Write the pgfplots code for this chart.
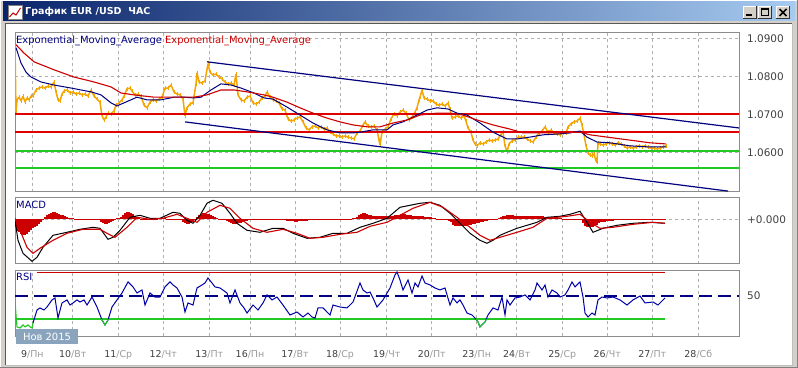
\documentclass[border=0pt]{standalone}
\usepackage{fontspec}
\setmainfont{DejaVu Sans}
\usepackage{pgfplots}
\pgfplotsset{compat=1.18}
\definecolor{winbg}{HTML}{D4D0C8}
\definecolor{tbdark}{HTML}{0A246A}
\definecolor{tblight}{HTML}{A6CAF0}
\definecolor{priceor}{HTML}{F5A500}
\definecolor{emablue}{HTML}{000080}
\definecolor{emared}{HTML}{CC0000}
\definecolor{lvred}{HTML}{E00000}
\definecolor{lvgreen}{HTML}{22C922}
\definecolor{gridgray}{HTML}{B0B0B0}
\definecolor{framegray}{HTML}{8C8C8C}
\definecolor{labgray}{HTML}{404040}
\definecolor{daygray}{HTML}{9A9A9A}
\definecolor{boxblue}{HTML}{8AA4BE}
\definecolor{rsiblue}{HTML}{0000A8}

\pgfplotsset{
  panel/.style={
    scale only axis, width=724bp, anchor=south west,
    xmin=15, xmax=739,
    axis line style={framegray, line width=1bp},
    tick style={draw=none},
    xtick={32.3,72.7,118.3,163.3,209.3,250,295,340,386.7,431.7,476.7,516.7,562.3,607.3,652.3,698.3},
    xticklabels={},
    xmajorgrids,
    grid style={gridgray, line width=0.6bp, dash pattern=on 3bp off 3bp},
    scaled y ticks=false,
    axis on top=false,
    yticklabel pos=right,
    yticklabel style={anchor=west, inner sep=0pt, xshift=8bp, font=\fontsize{10.5}{12}\selectfont, text=labgray},
    clip=true,
  }
}

\begin{document}
\begin{tikzpicture}
\useasboundingbox (0,0) rectangle (798bp,368bp);
% window frame
\fill[winbg] (0,0) rectangle (798bp,368bp);
\draw[white, line width=1bp] (0.5bp,0.5bp) -- (0.5bp,367.5bp) -- (797.5bp,367.5bp);
\draw[gray, line width=1bp] (797.5bp,367.5bp) -- (797.5bp,0.5bp) -- (0.5bp,0.5bp);
\shade[left color=tbdark, right color=tblight] (3bp,347bp) rectangle (795bp,366bp);
\fill[white] (6bp,3bp) rectangle (792bp,344bp);
\draw[gray!70!black, line width=1bp] (5.5bp,3bp) -- (5.5bp,344.5bp) -- (792bp,344.5bp);
\draw[gray!50, line width=1bp] (792.5bp,344bp) -- (792.5bp,2.5bp) -- (5.5bp,2.5bp);
% title icon
\fill[white] (8bp,349bp) rectangle (22bp,363bp);
\draw[gray, line width=0.8bp] (8bp,349bp) rectangle (22bp,363bp);
\draw[red!80!black, line width=1bp] (9.5bp,351bp) -- (13bp,355bp) -- (16bp,353bp) -- (20.5bp,360bp);
\node[anchor=west, inner sep=0pt, text=white, font=\bfseries\fontsize{9.6}{12}\selectfont] at (25bp,356.5bp) {График EUR /USD\ \ ЧАС};
% buttons
\foreach \bx in {743,758,776}{
  \fill[winbg] (\bx bp,349bp) rectangle ({(\bx+14)*1bp},362bp);
  \draw[white, line width=1bp] (\bx bp+0.5bp,349bp) -- (\bx bp+0.5bp,361.5bp) -- ({(\bx+14)*1bp},361.5bp);
  \draw[gray!40!black, line width=1bp] ({(\bx+13.5)*1bp},362bp) -- ({(\bx+13.5)*1bp},349.5bp) -- (\bx bp,349.5bp);
}
\draw[black, line width=2bp] (746bp,352.5bp) -- (752bp,352.5bp);
\draw[black, line width=1bp] (761.5bp,352.5bp) rectangle (768.5bp,359.5bp);
\draw[black, line width=2bp] (761bp,359bp) -- (769bp,359bp);
\draw[black, line width=1.6bp] (779.5bp,352bp) -- (786.5bp,359bp) (779.5bp,359bp) -- (786.5bp,352bp);

% ================= MAIN PRICE PANEL =================
\begin{axis}[panel, at={(15bp,176bp)}, height=159bp,
  ymin=1.04956, ymax=1.09138,
  ytick={1.06,1.07,1.08,1.09}, yticklabels={1.0600,1.0700,1.0800,1.0900},
  ymajorgrids]
\addplot[draw=priceor, line width=1.5bp, line join=bevel,
  error bars/.cd, y dir=both, y fixed=0.0006, error mark=none,
  error bar style={draw=priceor, line width=0.9bp}] coordinates {
(15,1.0877)(16,1.0706)(17,1.0738)(19,1.0745)(21,1.0735)(23,1.0748)(25,1.0732)(27,1.0743)(29,1.0738)(31,1.0748)(33,1.0748)(36,1.0764)(39,1.0769)(42,1.0772)(45,1.0769)(48,1.0774)(51,1.0772)(54,1.0785)(56,1.0759)(58,1.0738)(60,1.0735)(62,1.0753)(64,1.0761)(67,1.0764)(70,1.0756)(73,1.0759)(76,1.0753)(79,1.0756)(82,1.0751)(85,1.0753)(88,1.0748)(91,1.0764)(94,1.0748)(97,1.0740)(100,1.0732)(102,1.0696)(104,1.0685)(106,1.0693)(108,1.0703)(111,1.0701)(114,1.0709)(116,1.0724)(119,1.0730)(122,1.0738)(124,1.0748)(127,1.0767)(130,1.0769)(132,1.0761)(135,1.0751)(138,1.0753)(141,1.0748)(144,1.0724)(147,1.0717)(150,1.0732)(153,1.0738)(156,1.0735)(159,1.0740)(162,1.0745)(165,1.0769)(168,1.0769)(171,1.0777)(174,1.0759)(177,1.0753)(180,1.0751)(183,1.0740)(185,1.0696)(187,1.0717)(190,1.0727)(193,1.0730)(196,1.0780)(197,1.0809)(199,1.0785)(202,1.0782)(205,1.0788)(208,1.0833)(210,1.0811)(213,1.0803)(216,1.0806)(219,1.0798)(222,1.0793)(225,1.0785)(228,1.0780)(231,1.0782)(234,1.0777)(236,1.0806)(238,1.0751)(241,1.0738)(244,1.0735)(247,1.0745)(250,1.0748)(253,1.0730)(256,1.0727)(259,1.0732)(262,1.0743)(265,1.0748)(267,1.0759)(270,1.0745)(273,1.0738)(276,1.0735)(279,1.0730)(282,1.0714)(285,1.0711)(288,1.0688)(291,1.0682)(294,1.0685)(297,1.0690)(300,1.0693)(303,1.0680)(306,1.0664)(309,1.0659)(312,1.0667)(315,1.0669)(318,1.0664)(321,1.0667)(324,1.0661)(327,1.0664)(330,1.0653)(333,1.0648)(336,1.0643)(339,1.0643)(342,1.0640)(345,1.0643)(348,1.0640)(351,1.0638)(354,1.0635)(357,1.0651)(360,1.0656)(363,1.0672)(365,1.0680)(368,1.0669)(371,1.0667)(374,1.0669)(377,1.0659)(379,1.0632)(380,1.0619)(382,1.0653)(385,1.0661)(388,1.0667)(391,1.0688)(394,1.0701)(397,1.0696)(400,1.0706)(403,1.0711)(406,1.0703)(409,1.0685)(412,1.0693)(415,1.0706)(417,1.0717)(419,1.0738)(420,1.0745)(422,1.0764)(424,1.0743)(427,1.0740)(430,1.0735)(433,1.0735)(436,1.0727)(439,1.0724)(442,1.0727)(445,1.0722)(448,1.0730)(450,1.0714)(452,1.0690)(455,1.0693)(458,1.0696)(461,1.0690)(464,1.0696)(466,1.0682)(468,1.0664)(471,1.0653)(473,1.0632)(475,1.0622)(477,1.0617)(480,1.0625)(483,1.0622)(486,1.0627)(489,1.0632)(492,1.0630)(495,1.0632)(498,1.0635)(501,1.0648)(503,1.0653)(505,1.0617)(507,1.0601)(509,1.0622)(512,1.0630)(515,1.0632)(518,1.0640)(521,1.0640)(524,1.0640)(527,1.0635)(530,1.0630)(533,1.0627)(536,1.0640)(539,1.0651)(542,1.0656)(545,1.0667)(548,1.0653)(551,1.0659)(554,1.0651)(557,1.0648)(560,1.0646)(563,1.0651)(566,1.0651)(568,1.0667)(571,1.0675)(574,1.0680)(577,1.0682)(580,1.0690)(582,1.0672)(584,1.0646)(586,1.0617)(588,1.0598)(590,1.0593)(592,1.0591)(594,1.0596)(596,1.0577)(597,1.0575)(598,1.0625)(600,1.0622)(603,1.0619)(606,1.0622)(609,1.0625)(612,1.0622)(615,1.0619)(618,1.0625)(621,1.0622)(624,1.0617)(627,1.0611)(630,1.0614)(633,1.0611)(636,1.0614)(639,1.0617)(642,1.0614)(645,1.0617)(648,1.0614)(651,1.0611)(654,1.0611)(657,1.0609)(660,1.0611)(663,1.0614)(666,1.0617)
};
% horizontal levels
\addplot[draw=lvred, line width=1.35bp] coordinates {(15,1.0701)(739,1.0701)};
\addplot[draw=lvred, line width=1.35bp] coordinates {(15,1.0653)(739,1.0653)};
\addplot[draw=lvgreen, line width=1.4bp] coordinates {(15,1.0603)(739,1.0603)};
\addplot[draw=lvgreen, line width=1.4bp] coordinates {(15,1.0559)(739,1.0559)};
% channel
\addplot[draw=emablue, line width=1.2bp] coordinates {(207,1.0838)(739,1.0664)};
\addplot[draw=emablue, line width=1.2bp] coordinates {(185,1.0680)(728,1.0498)};
% EMA fast (blue)
\addplot[draw=emablue, line width=1bp] coordinates {
(16,1.0875)(21,1.0835)(26,1.0811)(31,1.0798)(41,1.0785)(54,1.0777)(71,1.0769)(91,1.0759)(101,1.0751)(111,1.0730)(117,1.0722)(124,1.0730)(137,1.0745)(147,1.0738)(161,1.0738)(174,1.0745)(184,1.0745)(194,1.0743)(201,1.0745)(211,1.0764)(221,1.0780)(231,1.0777)(241,1.0769)(254,1.0756)(264,1.0743)(273,1.0740)(287,1.0719)(300,1.0698)(313,1.0677)(327,1.0659)(340,1.0651)(353,1.0651)(360,1.0653)(373,1.0659)(387,1.0659)(393,1.0672)(403,1.0680)(417,1.0698)(427,1.0711)(437,1.0717)(448,1.0714)(457,1.0703)(467,1.0698)(480,1.0677)(493,1.0653)(507,1.0635)(517,1.0635)(530,1.0640)(543,1.0646)(557,1.0648)(570,1.0651)(580,1.0656)(587,1.0640)(597,1.0627)(610,1.0625)(630,1.0617)(650,1.0614)(666,1.0614)
};
% EMA slow (red)
\addplot[draw=emared, line width=1.1bp] coordinates {
(16,1.0883)(24,1.0861)(34,1.0838)(54,1.0817)(74,1.0798)(94,1.0785)(111,1.0772)(121,1.0756)(134,1.0751)(154,1.0745)(174,1.0745)(194,1.0745)(207,1.0751)(221,1.0764)(234,1.0764)(247,1.0759)(264,1.0751)(273,1.0745)(287,1.0732)(300,1.0717)(313,1.0703)(327,1.0690)(340,1.0680)(353,1.0672)(367,1.0667)(380,1.0667)(393,1.0677)(407,1.0685)(420,1.0698)(437,1.0703)(450,1.0703)(463,1.0698)(477,1.0685)(493,1.0672)(510,1.0661)(523,1.0651)(540,1.0651)(557,1.0651)(580,1.0653)(590,1.0646)(607,1.0640)(630,1.0632)(650,1.0625)(666,1.0622)
};
\end{axis}

% ================= MACD PANEL =================
\begin{axis}[panel, at={(15bp,104bp)}, height=66.7bp,
  ymin=-0.00447, ymax=0.0022,
  ytick={0}, yticklabels={+0.000}, ymajorgrids]
\addplot[ycomb, draw=emared, color=emared, line width=1.2bp] coordinates {
(15,-0.0008)(17,-0.0012)(19,-0.0013)(21,-0.0015)(23,-0.0016)(25,-0.0016)(27,-0.0015)(29,-0.0013)(31,-0.0011)(33,-0.0009)(35,-0.0008)(37,-0.0007)(39,-0.0005)(41,-0.0003)(43,-0.0001)(45,0.0002)(47,0.0004)(49,0.0005)(51,0.0006)(53,0.0007)(55,0.0007)(57,0.0006)(59,0.0005)(61,0.0004)(63,0.0004)(65,0.0003)(67,0.0002)(69,0.0001)(71,0.0001)(73,0.0001)(75,0.00005)(77,0.00005)(79,0.00005)(81,0.00005)(83,0.00005)(85,0.00003)(87,0.00003)(89,0.00003)(91,0.00003)(93,-0.00003)(95,-0.00005)(97,-0.00005)(99,-0.0001)(101,-0.0003)(103,-0.0004)(105,-0.0005)(107,-0.0005)(109,-0.0004)(111,-0.0003)(113,-0.0002)(115,0.00005)(117,0.0001)(119,0.0001)(121,0.0002)(123,0.0004)(125,0.0006)(127,0.0007)(129,0.0007)(131,0.0006)(133,0.0005)(135,0.0003)(137,0.0002)(139,0.0001)(141,0.00005)(143,-0.00005)(145,-0.00005)(147,-0.00005)(149,0.00005)(151,0.00005)(153,0.00005)(155,0.00005)(157,0.00005)(159,0.0001)(161,0.0001)(163,0.0001)(165,0.0001)(167,0.00005)(169,0.00005)(171,0.00005)(173,0.00005)(175,-0.00005)(177,-0.00005)(179,-0.00005)(181,-0.0001)(183,-0.0003)(185,-0.0004)(187,-0.0005)(189,-0.0005)(191,-0.0004)(193,-0.0003)(195,-0.0001)(197,0.0002)(199,0.0004)(201,0.0005)(203,0.0006)(205,0.0006)(207,0.0005)(209,0.0005)(211,0.0004)(213,0.0003)(215,0.0002)(217,0.0001)(219,0.00005)(221,0.00005)(223,-0.00005)(225,-0.0001)(227,-0.0002)(229,-0.0003)(231,-0.0004)(233,-0.0005)(235,-0.0005)(237,-0.0005)(239,-0.0004)(241,-0.0004)(243,-0.0003)(245,-0.0002)(247,-0.0002)(249,-0.0001)(251,-0.0001)(253,-0.0001)(255,-0.0001)(257,-0.0001)(259,-0.00005)(261,-0.00005)(263,-0.00005)(265,-0.00005)(267,-0.00005)(269,-0.00005)(271,0.00005)(273,0.00005)(275,0.00005)(277,0.00005)(279,-0.00005)(281,-0.00005)(283,-0.0001)(285,-0.0001)(287,-0.0002)(289,-0.0002)(291,-0.0002)(293,-0.0002)(295,-0.0003)(297,-0.0003)(299,-0.0002)(301,-0.0002)(303,-0.0002)(305,-0.0002)(307,-0.0002)(309,-0.0001)(311,-0.0001)(313,-0.0001)(315,-0.00005)(317,-0.00005)(319,0.00005)(321,0.00005)(323,0.00005)(325,0.00005)(327,0.00005)(329,0.00005)(331,0.00005)(333,0.00005)(335,0.00005)(337,0.00005)(339,0.00005)(341,0.00005)(343,0.00005)(345,-0.00005)(347,-0.00005)(349,0.00005)(351,0.00005)(353,0.0001)(355,0.0001)(357,0.0002)(359,0.0004)(361,0.0005)(363,0.0006)(365,0.0006)(367,0.0005)(369,0.0004)(371,0.0004)(373,0.0003)(375,0.0003)(377,0.0003)(379,0.0003)(381,0.0003)(383,0.0003)(385,0.0003)(387,0.0003)(389,0.0003)(391,0.0003)(393,0.0003)(395,0.0004)(397,0.0004)(399,0.0004)(401,0.0005)(403,0.0005)(405,0.0005)(407,0.0004)(409,0.0004)(411,0.0004)(413,0.0003)(415,0.0003)(417,0.0003)(419,0.0003)(421,0.0003)(423,0.0003)(425,0.0002)(427,0.0002)(429,0.0002)(431,0.0002)(433,0.0001)(435,0.0001)(437,0.00005)(439,-0.00005)(441,-0.00005)(443,-0.00005)(445,-0.0001)(447,-0.0001)(449,-0.0002)(451,-0.0003)(453,-0.0006)(455,-0.0007)(457,-0.0007)(459,-0.0007)(461,-0.0007)(463,-0.0007)(465,-0.0007)(467,-0.0007)(469,-0.0006)(471,-0.0006)(473,-0.0005)(475,-0.0005)(477,-0.0004)(479,-0.0004)(481,-0.0003)(483,-0.0003)(485,-0.0002)(487,-0.0002)(489,-0.0001)(491,-0.00005)(493,-0.00005)(495,0.00005)(497,0.00005)(499,0.0001)(501,0.0002)(503,0.0003)(505,0.0003)(507,0.0004)(509,0.0004)(511,0.0004)(513,0.0004)(515,0.0003)(517,0.0003)(519,0.0003)(521,0.0003)(523,0.0003)(525,0.0003)(527,0.0003)(529,0.0003)(531,0.0003)(533,0.0003)(535,0.0003)(537,0.0003)(539,0.0003)(541,0.0003)(543,0.0003)(545,0.0002)(547,0.0002)(549,0.0002)(551,0.0002)(553,0.0001)(555,0.0001)(557,0.0001)(559,0.0001)(561,0.0001)(563,0.00005)(565,0.00005)(567,0.00005)(569,0.00005)(571,0.00005)(573,0.00005)(575,0.00005)(577,0.00005)(579,0.00005)(581,-0.0001)(583,-0.0004)(585,-0.0007)(587,-0.0008)(589,-0.0008)(591,-0.0008)(593,-0.0008)(595,-0.0007)(597,-0.0006)(599,-0.0004)(601,-0.0003)(603,-0.0003)(605,-0.0003)(607,-0.0002)(609,-0.0002)(611,-0.0002)(613,-0.0002)(615,-0.0001)(617,-0.0001)(619,-0.00005)(621,-0.00005)(623,0.00005)(625,0.00005)(627,-0.00005)(629,0.00005)(631,0.00005)(633,0.00005)(635,-0.00005)(637,0.00005)(639,0.00005)(641,0.00005)(643,0.00005)(645,-0.00005)(647,0.00005)(649,0.00005)(651,0.00005)(653,0.00005)(655,-0.00005)(657,0.00005)(659,0.00005)(661,0.00005)(663,0.00005)(665,0.00005)
};
% MACD main line
\addplot[draw=black, line width=1bp] coordinates {
(15,-0.0001)(18,-0.0021)(23,-0.0034)(32,-0.0042)(37,-0.0038)(43,-0.0028)(53,-0.0016)(67,-0.0013)(80,-0.0010)(93,-0.0008)(100,-0.0009)(108,-0.0020)(113,-0.0018)(120,-0.0011)(130,0.0002)(140,0.0004)(150,0.0001)(160,0.0001)(173,0.0007)(180,0.0006)(187,-0.0001)(193,-0.0004)(200,0.0004)(207,0.0016)(213,0.0019)(222,0.0016)(230,0.0006)(237,-0.0004)(247,-0.0011)(260,-0.0013)(273,-0.0009)(283,-0.0009)(293,-0.0014)(307,-0.0019)(320,-0.0018)(333,-0.0014)(347,-0.0014)(360,-0.0008)(373,-0.0004)(387,0.0001)(400,0.0012)(410,0.0014)(420,0.0016)(430,0.0017)(440,0.0014)(450,0.0006)(460,-0.0004)(470,-0.0014)(480,-0.0021)(487,-0.0024)(493,-0.0021)(500,-0.0016)(507,-0.0013)(517,-0.0009)(527,-0.0006)(537,-0.0003)(547,0.0002)(560,0.0003)(570,0.0005)(580,0.0008)(587,-0.0003)(593,-0.0013)(603,-0.0009)(617,-0.0006)(633,-0.0004)(650,-0.0003)(665,-0.0004)
};
% signal line
\addplot[draw=emared, line width=1.1bp] coordinates {
(15,0.0001)(20,-0.0011)(27,-0.0028)(33,-0.0034)(40,-0.0029)(53,-0.0021)(67,-0.0014)(83,-0.0010)(100,-0.0010)(107,-0.0014)(115,-0.0018)(127,-0.0008)(137,0.0002)(150,0.0000)(163,0.0001)(177,0.0005)(187,0.0001)(197,-0.0003)(207,0.0007)(220,0.0014)(230,0.0011)(240,0.0001)(253,-0.0009)(267,-0.0013)(283,-0.0010)(297,-0.0014)(310,-0.0019)(323,-0.0018)(340,-0.0015)(357,-0.0013)(370,-0.0007)(387,-0.0003)(400,0.0004)(413,0.0011)(430,0.0017)(443,0.0012)(457,0.0002)(470,-0.0008)(480,-0.0016)(490,-0.0021)(500,-0.0018)(517,-0.0013)(533,-0.0008)(547,0.0001)(567,0.0003)(580,0.0005)(590,-0.0003)(600,-0.0009)(613,-0.0008)(633,-0.0005)(653,-0.0003)(665,-0.0004)
};
\end{axis}

% ================= RSI PANEL =================
\begin{axis}[panel, at={(15bp,32bp)}, height=66bp,
  ymin=15.5, ymax=72.4,
  ytick={50}, yticklabels={50},
  xticklabels={9\textcolor{daygray}{/Пн},10\textcolor{daygray}{/Вт},11\textcolor{daygray}{/Ср},12\textcolor{daygray}{/Чт},13\textcolor{daygray}{/Пт},16\textcolor{daygray}{/Пн},17\textcolor{daygray}{/Вт},18\textcolor{daygray}{/Ср},19\textcolor{daygray}{/Чт},20\textcolor{daygray}{/Пт},23\textcolor{daygray}{/Пн},24\textcolor{daygray}{/Вт},25\textcolor{daygray}{/Ср},26\textcolor{daygray}{/Чт},27\textcolor{daygray}{/Пт},28\textcolor{daygray}{/Сб}},
  xticklabel style={anchor=north, inner sep=0pt, yshift=-14bp, font=\fontsize{9.5}{11}\selectfont, text=labgray}]
\addplot[draw=emared, line width=1.3bp] coordinates {(37,70)(665,70)};
\addplot[draw=lvgreen, line width=1.4bp] coordinates {(15,30)(665,30)};
\addplot[draw=emablue, line width=1.2bp, dash pattern=on 13bp off 6bp] coordinates {(15,50)(739,50)};
\addplot[draw=rsiblue, line width=1bp] coordinates {
(33,26.7)(37,37.9)(40,39.7)(44,37.9)(47,40.5)(52,46.6)(55,48.3)(58,31.0)(62,44.0)(67,46.6)(70,42.2)(73,44.0)(77,46.6)(80,44.8)(84,46.6)(87,42.2)(92,49.1)(97,40.5)(102,29.3)(105,25.0)(108,29.3)(112,40.5)(117,46.6)(122,52.6)(128,62.1)(133,57.8)(137,52.6)(142,55.2)(145,42.2)(150,52.6)(155,49.1)(160,49.1)(165,57.8)(170,62.1)(173,59.5)(177,56.9)(182,49.1)(185,36.2)(188,44.0)(193,42.2)(197,56.9)(202,59.5)(205,61.2)(208,65.5)(212,61.2)(215,57.8)(220,56.9)(227,52.6)(230,44.0)(235,55.2)(240,44.0)(244,39.7)(247,35.3)(253,42.2)(258,37.9)(263,44.0)(267,50.9)(272,46.6)(277,49.1)(283,42.2)(290,33.6)(297,36.2)(303,31.9)(308,35.3)(312,31.9)(315,31.0)(318,39.7)(323,39.7)(330,33.6)(333,42.2)(340,40.5)(347,39.7)(353,44.8)(360,61.2)(363,55.2)(367,52.6)(370,53.4)(373,48.3)(377,40.5)(383,46.6)(390,56.9)(395,68.1)(397,70.7)(400,63.8)(403,55.2)(408,63.8)(412,52.6)(415,61.2)(418,57.8)(422,67.2)(425,61.2)(430,59.5)(435,56.9)(440,55.2)(445,56.9)(450,42.2)(453,48.3)(457,44.0)(460,46.6)(463,42.2)(467,35.3)(472,33.6)(475,31.0)(478,27.6)(480,23.3)(483,25.9)(485,27.6)(488,33.6)(493,39.7)(498,37.9)(502,49.1)(505,33.6)(507,46.6)(510,42.2)(515,48.3)(520,49.1)(525,50.9)(530,46.6)(535,55.2)(537,61.2)(542,55.2)(545,59.5)(548,49.1)(552,55.2)(557,52.6)(560,49.1)(565,50.9)(568,55.2)(572,62.1)(575,57.8)(580,62.1)(583,49.1)(585,35.3)(588,31.9)(592,35.3)(595,33.6)(598,46.6)(602,49.1)(607,48.3)(613,49.1)(620,46.6)(627,42.2)(633,46.6)(640,50.0)(645,44.0)(653,44.8)(658,42.2)(665,48.3)
};
\addplot[draw=lvgreen, line width=1.1bp] coordinates {(15,46.6)(16,33.6)(17,23.3)(20,22.4)(23,25.0)(25,23.3)(28,25.0)(30,23.3)(32,22.4)(33,26.7)};
\addplot[draw=lvgreen, line width=1.1bp] coordinates {(101.2,30)(102,29.3)(105,25.0)(108,29.3)(108.3,30)};
\addplot[draw=lvgreen, line width=1.1bp] coordinates {(476.2,30)(478,27.6)(480,23.3)(483,25.9)(485,27.6)(486.4,30)};
\end{axis}

% panel captions
\node[anchor=west, inner sep=0pt, font=\fontsize{10}{12}\selectfont] at (16bp,327bp) {\textcolor{emablue}{Exponential\_Moving\_Average} \textcolor{emared}{Exponential\_Moving\_Average}};
\node[anchor=west, inner sep=0pt, font=\fontsize{10}{12}\selectfont, text=emablue] at (16bp,163bp) {MACD};
\node[anchor=west, inner sep=0pt, font=\fontsize{10}{12}\selectfont, text=emablue] at (16bp,91bp) {RSI};
% date box
\fill[boxblue] (16bp,24bp) rectangle (78bp,39bp);
\node[inner sep=0pt, text=white, font=\fontsize{10}{12}\selectfont] at (47bp,31.5bp) {Нов 2015};
\end{tikzpicture}
\end{document}
